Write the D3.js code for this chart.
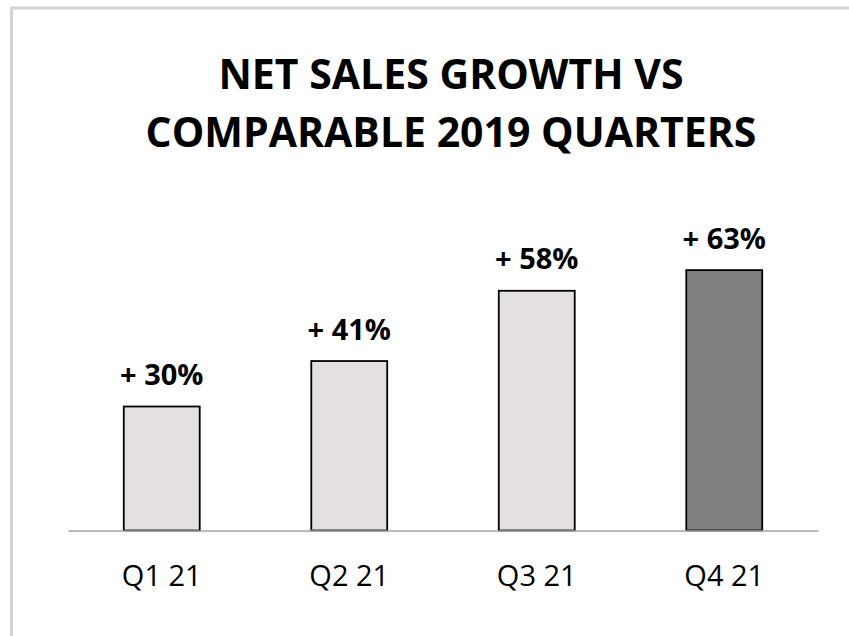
<!DOCTYPE html>
<html>
<head>
<meta charset="utf-8">
<script src="https://cdn.jsdelivr.net/npm/d3@7"></script>
<style>
    body { margin: 0; background: #fff; }
    svg { display: block; }
</style>
</head>
<body>
<div class="chart-container"></div>
<script>
var quarters = ["Q1 21", "Q2 21", "Q3 21", "Q4 21"];
var growth = [30, 41, 58, 63];
var barLabels = ["+ 30%", "+ 41%", "+ 58%", "+ 63%"];
var titleLines = ["NET SALES GROWTH VS", "COMPARABLE 2019 QUARTERS"];

var width = 849, height = 636;
var baseY = 530.5;

var svg = d3.select(".chart-container")
        .append("svg")
        .attr("width", width)
        .attr("height", height);

// frame (only top and left edges are in view)
svg.append("path")
        .attr("d", "M11.5,636 V8 H849")
        .attr("fill", "none")
        .attr("stroke", "#d3d3d3")
        .attr("stroke-width", 3);

svg.append("text")
        .attr("text-anchor", "middle")
        .attr("font-family", "Open Sans")
        .attr("font-weight", "bold")
        .attr("font-size", 41)
        .attr("fill", "#000")
        .selectAll("tspan")
        .data(titleLines)
        .enter()
        .append("tspan")
        .attr("x", 451)
        .attr("y", function (d, i) {
            return 89 + i * 58;
        })
        .text(function (d) {
            return d;
        });

var x = d3.scaleBand()
        .domain(quarters)
        .range([68, 818])
        .paddingInner(0.595)
        .paddingOuter(0.2975);

var y = d3.scaleLinear()
        .domain([0, 70])
        .range([baseY, baseY - 70 * 4.133]);

var bars = svg.selectAll(".bar")
        .data(growth)
        .enter()
        .append("g")
        .attr("class", "bar");

bars.append("rect")
        .attr("x", function (d, i) {
            return x(quarters[i]);
        })
        .attr("y", function (d) {
            return y(d);
        })
        .attr("width", x.bandwidth())
        .attr("height", function (d) {
            return y(0) - y(d);
        })
        .attr("fill", function (d, i) {
            return i === quarters.length - 1 ? "#7f7f7f" : "#e4e0e1";
        })
        .attr("stroke", "#000")
        .attr("stroke-width", 1.8);

bars.append("text")
        .attr("x", function (d, i) {
            return x(quarters[i]) + x.bandwidth() / 2;
        })
        .attr("y", function (d) {
            return y(d) - 21.5;
        })
        .attr("text-anchor", "middle")
        .attr("font-family", "Open Sans")
        .attr("font-weight", "bold")
        .attr("font-size", 29)
        .attr("fill", "#000")
        .text(function (d, i) {
            return barLabels[i];
        });

var axis = svg.append("g")
        .attr("transform", "translate(0," + baseY + ")")
        .call(d3.axisBottom(x).tickSize(0).tickPadding(0).tickSizeOuter(0));

axis.select(".domain")
        .attr("stroke", "#a6a6a6")
        .attr("stroke-width", 1.5);

axis.selectAll(".tick text")
        .attr("dy", null)
        .attr("y", 55.5)
        .attr("font-family", "Open Sans")
        .attr("font-size", 29)
        .attr("fill", "#000");
</script>
</body>
</html>
